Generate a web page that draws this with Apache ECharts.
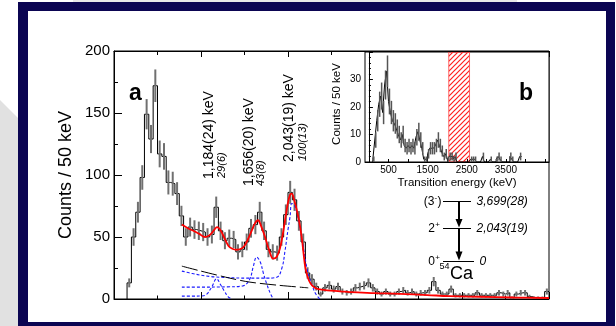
<!DOCTYPE html>
<html>
<head>
<meta charset="utf-8">
<script src="https://cdn.jsdelivr.net/npm/echarts@6/dist/echarts.min.js"></script>
<style>
  html, body { margin: 0; padding: 0; background: #fff; }
  #wrap { position: relative; width: 616px; height: 326px; overflow: hidden; background: #fff; }
  .shade { position: absolute; left: 0; top: 0; width: 18px; height: 326px; background: #e1e1e1;
           clip-path: polygon(0 100px, 18px 118px, 18px 326px, 0 326px); }
  .topshade { position: absolute; left: 73px; top: 0; width: 444px; height: 2px; background: #e8e8e8; }
  .frame { position: absolute; left: 18px; top: 2px; width: 597px; height: 324px; background: #0b0552; }
  .inner { position: absolute; left: 28px; top: 11px; width: 578px; height: 311px; background: #fff; }
  #chart { position: absolute; left: 0; top: 0; width: 616px; height: 326px; }
</style>
</head>
<body>
<div id="wrap">
  <div class="shade"></div>
  <div class="topshade"></div>
  <div class="frame"></div>
  <div class="inner"></div>
  <div id="chart"></div>
</div>
<script>
// ---- spectrum data (counts per 50 keV bin) ----
const binWidth = 50;

// panel a: bins start at 150 keV
const mainStart = 150;
const mainCounts = [
  13, 50, 70, 98, 149, 129, 172, 117, 115, 94,
  93, 85, 67, 50, 58, 56, 55, 54, 50, 52,
  74, 55, 47, 49, 48, 38, 40, 46, 57, 60,
  70, 55, 40, 38, 37, 50, 68, 86, 80, 63,
  46, 21, 16, 10, 4, 9, 11, 8, 10, 6,
  5, 6, 9, 10, 11, 13, 9, 6, 4, 6,
  4, 4, 6, 7, 5, 6, 4, 5, 5, 7,
  14, 7, 4, 4, 8, 3, 3, 3, 3, 3,
  5, 3, 3, 3, 3, 5, 4, 5, 1, 4,
  5, 5, 2, 1, 1, 1, 6
];

// panel b (coincidence spectrum): bins start at 100 keV
const insetStart = 100;
const insetCounts = [
  1, 8, 15, 21, 24, 18, 28, 33, 22, 18,
  15, 14, 12, 10, 8, 10, 6, 5, 6, 5,
  6, 5, 9, 11, 8, 5, 1, 1, 3, 5,
  5, 5, 6, 8, 6, 4, 2, 3, 1, 2,
  2, 1, 2, 0, 0, 0, 0, 0, 0, 0,
  1, 1, 1, 0, 0, 0, 2, 0, 0, 0,
  1, 0, 0, 1, 2, 1, 0, 0, 0, 0,
  2, 1, 0, 0, 0, 2
];

// total fit (keV, counts)
const fitTotal = [
  [780, 60], [850, 57], [912, 55], [980, 52.5], [1046, 50], [1100, 51.5], [1150, 55.5],
  [1185, 58], [1215, 56.5], [1250, 52], [1314, 43], [1360, 40.5], [1410, 39.7], [1460, 40.5],
  [1500, 43], [1545, 49], [1582, 55], [1620, 61], [1655, 63.5], [1690, 59], [1736, 50],
  [1785, 39], [1831, 32.5], [1870, 34], [1908, 41], [1940, 52], [1966, 63.4], [1995, 76],
  [2023, 84], [2043, 85], [2070, 80], [2100, 72], [2130, 62], [2157, 50], [2180, 36],
  [2200, 25], [2230, 17], [2260, 12.5], [2300, 9.5], [2350, 8], [2450, 7], [2600, 6.2],
  [2713, 5.5], [3000, 4.8], [3287, 4.2], [3600, 3.2], [3862, 2.3], [4200, 1.8], [4600, 1.2],
  [5000, 0.8]
];

// exponential background component
const fitBackground = [[780, 26.5], [1000, 22.5], [1333, 16.8], [1563, 13.6], [1900, 11], [2233, 9]];

// simulated detector responses
const resp1184 = [[780, 2.3], [900, 2.3], [1000, 2.4], [1060, 3.5], [1123, 9.6], [1180, 16.3],
                  [1225, 11.5], [1264, 6.9], [1310, 2], [1352, 0]];
const resp1656 = [[780, 9.6], [1000, 9.6], [1300, 9.8], [1480, 10.5], [1560, 16], [1600, 26],
                  [1640, 33.8], [1680, 30], [1720, 20], [1755, 12.3], [1800, 4], [1832, 0]];
const resp2043 = [[780, 22.5], [900, 20.5], [1103, 18.2], [1300, 17.3], [1525, 16.8], [1750, 16.8],
                  [1870, 17.5], [1930, 25], [1966, 39], [2000, 56], [2023, 66], [2043, 77],
                  [2070, 76], [2100, 70], [2130, 60], [2157, 50], [2185, 38], [2215, 25.7],
                  [2245, 17], [2272, 12], [2320, 4], [2368, 0]];

// gate window marked in panel b
const gateWindow = [2040, 2570];

// tick values
const mainYTicks = [0, 50, 100, 150, 200];
const insetXLabels = [500, 1500, 2500, 3500];
const insetXTicks = [0, 500, 1000, 1500, 2000, 2500, 3000, 3500, 4000, 4500];

// peak annotations: energy label and relative intensity
const peakNames = ['1,184(24) keV', '1,656(20) keV', '2,043(19) keV'];
const peakIntensities = ['29(6)', '43(8)', '100(13)'];

// level scheme of 54Ca
const levelSpins = ['(3', '2', '0'];
const levelParity = ['-', '+', '+'];
const levelEnergies = ['3,699(28)', '2,043(19)', '0'];

// ---- helpers ----
function stepPoints(start, counts) {
  const pts = [[start, 0]];
  counts.forEach((c, i) => {
    const lo = start + i * binWidth;
    pts.push([lo, c], [lo + binWidth, c]);
  });
  return pts;
}
function binCentres(start, counts) {
  return counts.map((c, i) => [start + i * binWidth + binWidth / 2, c]).filter(d => d[1] > 0);
}
function errorBar(width, color) {
  return function (params, api) {
    const x = api.value(0), v = api.value(1), e = Math.sqrt(v);
    const p1 = api.coord([x, v - e]), p2 = api.coord([x, v + e]);
    return { type: 'line', shape: { x1: p1[0], y1: p1[1], x2: p2[0], y2: p2[1] },
             style: { stroke: color, lineWidth: width } };
  };
}

// red diagonal hatch pattern
const hatch = document.createElement('canvas');
hatch.width = 5; hatch.height = 5;
(function () {
  const c = hatch.getContext('2d');
  c.strokeStyle = '#ff2020';
  c.lineWidth = 1.2;
  c.beginPath();
  c.moveTo(-1, 6); c.lineTo(6, -1);
  c.moveTo(-1, 1); c.lineTo(1, -1);
  c.moveTo(4, 6); c.lineTo(6, 4);
  c.stroke();
})();

const FONT = '"Liberation Sans", Arial, Helvetica, sans-serif';
const black = '#000';

const chart = echarts.init(document.getElementById('chart'), null, { renderer: 'canvas' });

const axisLineStyle = { lineStyle: { color: black, width: 1 } };

const option = {
  animation: false,
  backgroundColor: 'transparent',
  grid: [
    { left: 114, top: 51, width: 435, height: 248, show: true, borderColor: black, borderWidth: 1,
      backgroundColor: 'transparent', z: 2 },
    { left: 365, top: 52, width: 184, height: 110, show: true, borderColor: black, borderWidth: 1,
      backgroundColor: '#fff', z: 20 }
  ],
  xAxis: [
    { gridIndex: 0, type: 'value', min: 0, max: 5000, interval: 1000, position: 'bottom',
      axisLine: axisLineStyle, axisLabel: { show: false }, splitLine: { show: false },
      axisTick: { inside: true, length: 7, lineStyle: { color: black } },
      minorTick: { show: true, splitNumber: 2, length: 3.5, lineStyle: { color: black } } },
    { gridIndex: 0, type: 'value', min: 0, max: 5000, interval: 1000, position: 'top',
      axisLine: axisLineStyle, axisLabel: { show: false }, splitLine: { show: false },
      axisTick: { inside: true, length: 6, lineStyle: { color: black } },
      minorTick: { show: true, splitNumber: 2, length: 4, lineStyle: { color: black } } },
    { gridIndex: 1, type: 'value', min: -100, max: 4600, z: 22,
      axisLine: axisLineStyle, splitLine: { show: false },
      axisLabel: { customValues: insetXLabels, fontSize: 10, color: black, fontFamily: FONT, margin: 3,
                   formatter: v => String(v) },
      axisTick: { customValues: insetXTicks, inside: true, length: 3, lineStyle: { color: black } } }
  ],
  yAxis: [
    { gridIndex: 0, type: 'value', min: 0, max: 200, interval: 50,
      axisLine: axisLineStyle, splitLine: { show: false },
      axisLabel: { fontSize: 15, color: black, fontFamily: FONT, margin: 4,
                   formatter: v => mainYTicks.includes(v) ? String(v) : '' },
      axisTick: { inside: true, length: 8, lineStyle: { color: black } },
      minorTick: { show: true, splitNumber: 2, length: 4, lineStyle: { color: black } } },
    { gridIndex: 1, type: 'value', min: 0, max: 40, interval: 10, z: 22,
      axisLine: axisLineStyle, splitLine: { show: false },
      axisLabel: { fontSize: 10, color: black, fontFamily: FONT, margin: 4, showMaxLabel: false,
                   formatter: v => String(v) },
      axisTick: { inside: true, length: 4, lineStyle: { color: black } },
      minorTick: { show: true, splitNumber: 5, length: 2, lineStyle: { color: black } } }
  ],
  series: [
    // panel a
    { type: 'line', xAxisIndex: 0, yAxisIndex: 0, data: stepPoints(mainStart, mainCounts),
      showSymbol: false, lineStyle: { color: black, width: 1 }, z: 3, clip: true },
    { type: 'custom', xAxisIndex: 0, yAxisIndex: 0, data: binCentres(mainStart, mainCounts),
      renderItem: errorBar(2, '#707070'), z: 4, clip: true },
    { type: 'line', xAxisIndex: 0, yAxisIndex: 0, data: resp1184, smooth: 0.4, showSymbol: false,
      lineStyle: { color: '#1a1aff', width: 1.1, type: [3, 2] }, z: 5 },
    { type: 'line', xAxisIndex: 0, yAxisIndex: 0, data: resp1656, smooth: 0.4, showSymbol: false,
      lineStyle: { color: '#1a1aff', width: 1.1, type: [3, 2] }, z: 5 },
    { type: 'line', xAxisIndex: 0, yAxisIndex: 0, data: resp2043, smooth: 0.4, showSymbol: false,
      lineStyle: { color: '#1a1aff', width: 1.1, type: [3, 2] }, z: 5 },
    { type: 'line', xAxisIndex: 0, yAxisIndex: 0, data: fitBackground, smooth: 0.3, showSymbol: false,
      lineStyle: { color: black, width: 1, type: [16, 4] }, z: 5 },
    { type: 'line', xAxisIndex: 0, yAxisIndex: 0, data: fitTotal, smooth: 0.4, showSymbol: false,
      lineStyle: { color: '#ff0000', width: 1.8 }, z: 6 },
    // panel b
    { type: 'custom', xAxisIndex: 2, yAxisIndex: 1, data: [gateWindow], z: 21, clip: true,
      renderItem: function (params, api) {
        const p1 = api.coord([api.value(0), 40]), p2 = api.coord([api.value(1), 0]);
        return { type: 'rect', shape: { x: p1[0], y: p1[1], width: p2[0] - p1[0], height: p2[1] - p1[1] },
                 style: { fill: { image: hatch, repeat: 'repeat' }, stroke: '#ff4040', lineWidth: 0.8 } };
      } },
    { type: 'line', xAxisIndex: 2, yAxisIndex: 1, data: stepPoints(insetStart, insetCounts),
      showSymbol: false, lineStyle: { color: black, width: 1 }, z: 22, clip: true },
    { type: 'custom', xAxisIndex: 2, yAxisIndex: 1, data: binCentres(insetStart, insetCounts),
      renderItem: errorBar(1.5, '#555'), z: 23, clip: true }
  ],
  graphic: [
    // axis titles
    { type: 'text', x: 66, y: 175, rotation: Math.PI / 2, z: 30,
      style: { text: 'Counts / 50 keV', font: '18px ' + FONT, fill: black, align: 'center', verticalAlign: 'middle' } },
    { type: 'text', x: 337, y: 104, rotation: Math.PI / 2, z: 30,
      style: { text: 'Counts / 50 keV', font: '11.5px ' + FONT, fill: black, align: 'center', verticalAlign: 'middle' } },
    { type: 'text', x: 457, y: 183, z: 30,
      style: { text: 'Transition energy (keV)', font: '11.5px ' + FONT, fill: black, align: 'center', verticalAlign: 'middle' } },
    // panel letters
    { type: 'text', x: 129, y: 82, z: 30,
      style: { text: 'a', font: 'bold 23px ' + FONT, fill: black, align: 'left', verticalAlign: 'alphabetic' } },
    { type: 'text', x: 519, y: 82, z: 30,
      style: { text: 'b', font: 'bold 23px ' + FONT, fill: black, align: 'left', verticalAlign: 'alphabetic' } },
    // peak annotations
    { type: 'text', x: 209, y: 179, rotation: Math.PI / 2, z: 30,
      style: { text: peakNames[0], font: '14px ' + FONT, fill: black, align: 'left', verticalAlign: 'middle' } },
    { type: 'text', x: 221.5, y: 178, rotation: Math.PI / 2, z: 30,
      style: { text: peakIntensities[0], font: 'italic 11px ' + FONT, fill: black, align: 'left', verticalAlign: 'middle' } },
    { type: 'text', x: 249, y: 186, rotation: Math.PI / 2, z: 30,
      style: { text: peakNames[1], font: '14px ' + FONT, fill: black, align: 'left', verticalAlign: 'middle' } },
    { type: 'text', x: 260.5, y: 186, rotation: Math.PI / 2, z: 30,
      style: { text: peakIntensities[1], font: 'italic 11px ' + FONT, fill: black, align: 'left', verticalAlign: 'middle' } },
    { type: 'text', x: 289, y: 162, rotation: Math.PI / 2, z: 30,
      style: { text: peakNames[2], font: '14px ' + FONT, fill: black, align: 'left', verticalAlign: 'middle' } },
    { type: 'text', x: 302.5, y: 161, rotation: Math.PI / 2, z: 30,
      style: { text: peakIntensities[2], font: 'italic 11px ' + FONT, fill: black, align: 'left', verticalAlign: 'middle' } },
    // level scheme
    { type: 'line', z: 30, shape: { x1: 443, y1: 201.5, x2: 471, y2: 201.5 }, style: { stroke: black, lineWidth: 1 } },
    { type: 'line', z: 30, shape: { x1: 443, y1: 228.5, x2: 471, y2: 228.5 }, style: { stroke: black, lineWidth: 1 } },
    { type: 'line', z: 30, shape: { x1: 443, y1: 261.5, x2: 474, y2: 261.5 }, style: { stroke: black, lineWidth: 1 } },
    { type: 'line', z: 30, shape: { x1: 459, y1: 201.5, x2: 459, y2: 222 }, style: { stroke: black, lineWidth: 2 } },
    { type: 'line', z: 30, shape: { x1: 459, y1: 228.5, x2: 459, y2: 255 }, style: { stroke: black, lineWidth: 2 } },
    { type: 'polygon', z: 30, shape: { points: [[455.5, 219], [462.5, 219], [459, 227.5]] }, style: { fill: black } },
    { type: 'polygon', z: 30, shape: { points: [[455.5, 251.5], [462.5, 251.5], [459, 260.5]] }, style: { fill: black } },
    { type: 'text', x: 434.3, y: 202, z: 30,
      style: { text: levelSpins[0], font: '12px ' + FONT, fill: black, align: 'right', verticalAlign: 'middle' } },
    { type: 'text', x: 434.6, y: 198, z: 30,
      style: { text: levelParity[0], font: '8px ' + FONT, fill: black, align: 'left', verticalAlign: 'middle' } },
    { type: 'text', x: 437.5, y: 202, z: 30,
      style: { text: ')', font: '12px ' + FONT, fill: black, align: 'left', verticalAlign: 'middle' } },
    { type: 'text', x: 435, y: 229, z: 30,
      style: { text: levelSpins[1], font: '12px ' + FONT, fill: black, align: 'right', verticalAlign: 'middle' } },
    { type: 'text', x: 435.3, y: 225, z: 30,
      style: { text: levelParity[1], font: '8px ' + FONT, fill: black, align: 'left', verticalAlign: 'middle' } },
    { type: 'text', x: 435, y: 262, z: 30,
      style: { text: levelSpins[2], font: '12px ' + FONT, fill: black, align: 'right', verticalAlign: 'middle' } },
    { type: 'text', x: 435.3, y: 258, z: 30,
      style: { text: levelParity[2], font: '8px ' + FONT, fill: black, align: 'left', verticalAlign: 'middle' } },
    { type: 'text', x: 476.5, y: 202, z: 30,
      style: { text: levelEnergies[0], font: 'italic 12px ' + FONT, fill: black, align: 'left', verticalAlign: 'middle' } },
    { type: 'text', x: 476.5, y: 229, z: 30,
      style: { text: levelEnergies[1], font: 'italic 12px ' + FONT, fill: black, align: 'left', verticalAlign: 'middle' } },
    { type: 'text', x: 479.5, y: 262, z: 30,
      style: { text: levelEnergies[2], font: 'italic 12px ' + FONT, fill: black, align: 'left', verticalAlign: 'middle' } },
    { type: 'text', x: 449.5, y: 267, z: 30,
      style: { text: '54', font: '9px ' + FONT, fill: black, align: 'right', verticalAlign: 'middle' } },
    { type: 'text', x: 450, y: 274.5, z: 30,
      style: { text: 'Ca', font: '18px ' + FONT, fill: black, align: 'left', verticalAlign: 'middle' } }
  ]
};

chart.setOption(option);
</script>
</body>
</html>
